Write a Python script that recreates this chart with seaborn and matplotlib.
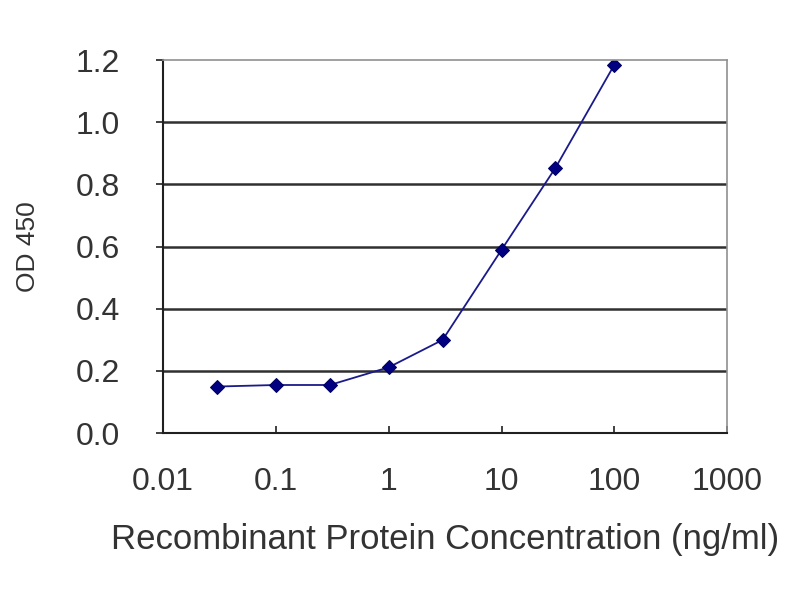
import numpy as np
import pandas as pd
import matplotlib
matplotlib.use("Agg")
import matplotlib.pyplot as plt
import seaborn as sns

# data
konsentrasjon = [0.03, 0.1, 0.3, 1, 3, 10, 30, 100]
od450 = [0.150, 0.155, 0.155, 0.212, 0.300, 0.590, 0.853, 1.185]
x_ticks = [0.01, 0.1, 1, 10, 100, 1000]
x_labels = ["0.01", "0.1", "1", "10", "100", "1000"]
y_ticks = [0.0, 0.2, 0.4, 0.6, 0.8, 1.0, 1.2]
y_labels = ["0.0", "0.2", "0.4", "0.6", "0.8", "1.0", "1.2"]

df = pd.DataFrame({"konsentrasjon": konsentrasjon, "od": od450})

sns.set_style("white")
plt.rcParams["font.family"] = ["Liberation Sans", "DejaVu Sans"]

fig = plt.figure(figsize=(8, 6), dpi=100)
ax = fig.add_axes([0.204, 0.278, 0.705, 0.622])

sns.lineplot(data=df, x="konsentrasjon", y="od", ax=ax, color="#1a1a8c",
             linewidth=1.3, marker="D", markersize=7, markeredgecolor="#000060",
             markerfacecolor="#000080")

ax.set_xscale("log")
ax.set_xlim(0.01, 1000)
ax.set_ylim(0, 1.2)
ax.set_xticks(x_ticks)
ax.set_xticklabels(x_labels)
ax.minorticks_off()
ax.set_yticks(y_ticks)
ax.set_yticklabels(y_labels)

# horisontale rutenett
for y in y_ticks[1:-1]:
    ax.axhline(y, color="#303030", linewidth=1.8, zorder=0)

for side in ["top", "right"]:
    ax.spines[side].set_color("#909090")
    ax.spines[side].set_linewidth(1.2)
for side in ["left", "bottom"]:
    ax.spines[side].set_color("#202020")
    ax.spines[side].set_linewidth(1.5)

ax.tick_params(axis="x", bottom=True, direction="in", length=5, width=1.2,
               color="#202020", labelsize=23, pad=24, labelcolor="#333333")
ax.tick_params(axis="y", left=True, direction="out", length=5, width=1.2,
               color="#202020", labelsize=23, pad=26, labelcolor="#333333")

ax.set_xlabel("Recombinant Protein Concentration (ng/ml)", fontsize=25,
              color="#333333", labelpad=19)
ax.set_ylabel("OD 450", fontsize=19, color="#333333", labelpad=26)

fig.savefig("out.png", dpi=100)
